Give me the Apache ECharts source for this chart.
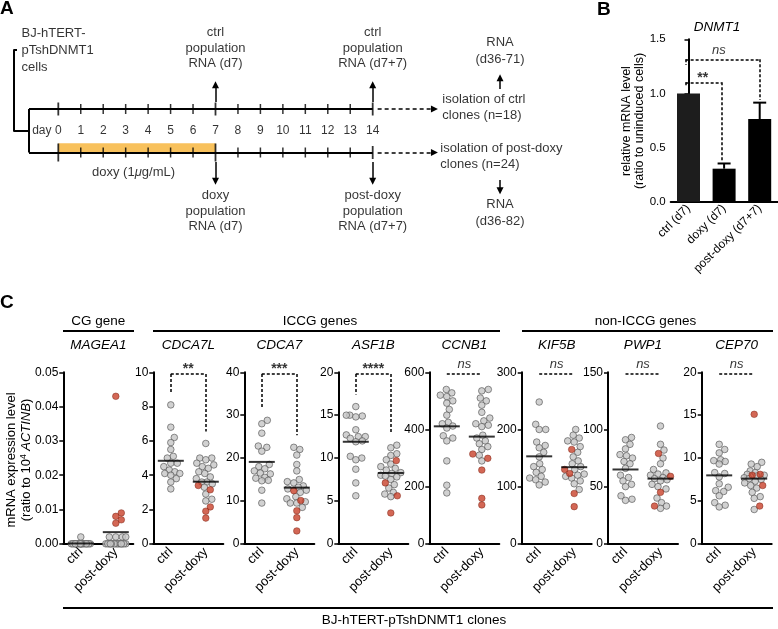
<!DOCTYPE html>
<html><head><meta charset="utf-8">
<script src="https://cdn.jsdelivr.net/npm/echarts@6/dist/echarts.min.js"></script>
<style>html,body{margin:0;padding:0;background:#fff}#c{width:778px;height:629px}</style>
</head><body><div id="c"></div>
<script>
// ================= DATA =================
// Panel A (timeline schematic)
const days = [0,1,2,3,4,5,6,7,8,9,10,11,12,13,14];
const mainDays = [0,7,14];
const doxyPeriod = [0,7];
const sampleDays = [7,14];

// Panel B (DNMT1 relative mRNA)
const bCategories = ['ctrl (d7)','doxy (d7)','post-doxy (d7+7)'];
const bValues = [1.0, 0.305, 0.763];
const bErrors = [0, 0.048, 0.152];
const bTicks = [0, 0.5, 1.0, 1.5];
const bSig = ['**','ns'];

// Panel C (clones)
const cGenes = ['MAGEA1','CDCA7L','CDCA7','ASF1B','CCNB1','KIF5B','PWP1','CEP70'];
const cGroups = ['ctrl','post-doxy'];
const cYMax = [0.05, 10, 40, 20, 600, 300, 150, 20];
const cYStep = [0.01, 2, 10, 5, 200, 100, 50, 5];
const cSig = ['', '**', '***', '****', 'ns', 'ns', 'ns', 'ns'];
const cMeanCtrl = [0.0001, 4.84, 19.1, 11.9, 411, 153, 65, 7.98];
const cMeanPost = [0.0034, 3.62, 13.1, 8.26, 375, 134, 57, 7.6];

const MAGEA1_ctrl = [0.002,0,0,0,0,0,0,0,0,0,0,0,0,0,0,0,0,0];
const MAGEA1_postGray = [0.002,0.002,0.002,0.002,0,0,0,0,0,0,0,0,0,0,0,0,0,0,0];
const MAGEA1_postRed = [0.043,0.009,0.008,0.007,0.006];

const CDCA7L_ctrl = [8.1,6.8,6.2,5.9,5.5,5.1,5.0,4.7,4.7,4.5,4.3,4.2,4.1,4.1,4.0,3.8,3.6,3.2];
const CDCA7L_postGray = [5.85,5.0,5.0,4.9,4.7,4.6,4.5,4.4,4.2,4.1,3.9,3.8,3.6,3.6,3.5,3.3,2.9,2.6,2.5];
const CDCA7L_postRed = [3.4,3.15,2.15,1.9,1.5];

const CDCA7_ctrl = [28.8,28.0,25.8,22.8,22.5,21.6,18.5,18.0,17.5,17.0,16.5,16.3,15.5,15.3,14.8,14.7,12.5,9.5];
const CDCA7_postGray = [22.5,22.0,20.7,18.5,17.0,15.0,14.5,14.2,13.5,13.2,12.8,12.5,12.0,11.0,10.5,9.8,9.5,9.5,8.5];
const CDCA7_postRed = [12.4,10.1,7.7,6.1,3.0];

const ASF1B_ctrl = [16.0,15.0,14.9,14.8,15.0,13.3,12.7,12.5,12.5,12.3,12.0,11.9,10.2,10.0,9.8,8.7,7.1,5.6];
const ASF1B_postGray = [11.5,11.2,10.5,10.3,9.8,9.3,9.0,8.8,8.6,8.3,8.2,8.0,7.9,7.8,7.5,6.9,6.5,6.0,5.8,5.5];
const ASF1B_postRed = [9.7,7.1,5.6,3.6];

const CCNB1_ctrl = [540,528,520,515,500,492,470,450,425,420,412,405,378,370,360,290,205,178];
const CCNB1_postGray = [540,535,510,500,485,460,440,430,420,415,410,380,370,360,350,340,330,310,290];
const CCNB1_postRed = [314,299,258,159,136];

const KIF5B_ctrl = [248,209,200,200,178,172,168,160,152,140,135,130,125,118,115,112,108,103];
const KIF5B_postGray = [200,190,185,180,178,170,160,152,145,140,135,130,122,120,118,115,110,105,95];
const KIF5B_postRed = [165,130,123,88,65];

const PWP1_ctrl = [93,91,87,83,78,77,75,72,70,66,60,58,55,52,50,42,39,38];
const PWP1_postGray = [103,87,82,75,70,65,62,61,60,58,57,56,55,52,50,48,40,36,33,31];
const PWP1_postRed = [79,59,45,33];

const CEP70_ctrl = [11.6,11.0,10.6,9.8,9.7,9.6,9.3,8.3,8.2,7.8,7.0,6.6,6.2,6.1,5.6,4.8,4.5,4.3];
const CEP70_postGray = [9.5,9.3,9.0,8.5,8.3,8.1,8.0,7.9,7.7,7.6,7.5,7.3,7.1,6.8,6.5,6.0,5.5,5.3,4.0];
const CEP70_postRed = [15.1,8.1,8.0,6.8,4.4];

const cCtrl = [MAGEA1_ctrl, CDCA7L_ctrl, CDCA7_ctrl, ASF1B_ctrl, CCNB1_ctrl, KIF5B_ctrl, PWP1_ctrl, CEP70_ctrl];
const cPostGray = [MAGEA1_postGray, CDCA7L_postGray, CDCA7_postGray, ASF1B_postGray, CCNB1_postGray, KIF5B_postGray, PWP1_postGray, CEP70_postGray];
const cPostRed = [MAGEA1_postRed, CDCA7L_postRed, CDCA7_postRed, ASF1B_postRed, CCNB1_postRed, KIF5B_postRed, PWP1_postRed, CEP70_postRed];

// ================= LAYOUT / STYLE =================
const FONT = "'Liberation Sans', Arial, Helvetica, sans-serif";
const GRAY = '#c6c6c6', GRAY_B = '#505050', RED = '#c8412a', RED_B = '#7a2415';
const cLeft = [63.3, 153.3, 244.3, 338.3, 429.3, 521.7, 608, 701.7];
const cTop = 372.3, cH = 171.5, cW = 70;
const DOT = 6.6;

const grids = [], xAxes = [], yAxes = [], series = [], graphics = [];

function linesSeries(xi, yi, coordsList, style, endSymbol, symSize) {
  return {type:'lines', coordinateSystem:'cartesian2d', xAxisIndex:xi, yAxisIndex:yi,
    clip:false, silent:true, animation:false, polyline:false, z:3,
    symbol: endSymbol ? ['none', endSymbol] : ['none','none'], symbolSize: symSize || 7,
    lineStyle: Object.assign({color:'#000', width:2, opacity:1, curveness:0, type:'solid'}, style),
    data: coordsList.map(c => ({coords:c}))};
}
function textSeries(xi, yi, items, lab) {
  return {type:'scatter', xAxisIndex:xi, yAxisIndex:yi, clip:false, silent:true, animation:false, z:6,
    symbolSize:1, itemStyle:{color:'rgba(0,0,0,0)'},
    label: Object.assign({show:true, position:'inside', formatter:'{b}', color:'#000', fontFamily:FONT, fontSize:13}, lab),
    data: items.map(it => ({name:it.t, value:it.p, label: it.l || {}}))};
}
function gText(x, y, text, opts) {
  graphics.push(Object.assign({type:'text', x:x, y:y, silent:true, z:10,
    style: Object.assign({text:text, fill:'#000', fontFamily:FONT, fontSize:13.5, align:'center', verticalAlign:'middle'}, (opts && opts.style) || {})},
    opts && opts.rotation ? {rotation: opts.rotation} : {}));
}
function gLine(x1, y1, x2, y2, w) {
  graphics.push({type:'line', silent:true, z:10, shape:{x1,y1,x2,y2}, style:{stroke:'#000', lineWidth:w || 2}});
}

// ================= PANEL A =================
grids.push({left:58.3, top:109, width:314.4, height:43.5});
xAxes.push({gridIndex:0, type:'value', min:0, max:14, show:false});
yAxes.push({gridIndex:0, type:'value', min:0, max:1, inverse:true, show:false});
series.push({type:'line', xAxisIndex:0, yAxisIndex:0, data:[[0,1]], symbol:'none', lineStyle:{width:0}, silent:true, z:1,
  markArea:{silent:true, itemStyle:{color:'#F8C15C'}, data:[[{coord:[doxyPeriod[0], 0.79]}, {coord:[doxyPeriod[1], 1.21]}]]}});
series.push(linesSeries(0,0,[
  [[-1.305,0],[14,0]], [[-1.305,1],[14,1]], [[-1.305,0],[-1.305,1]],
  [[-2.004,0.506],[-1.305,0.506]], [[-2.004,0.506],[-2.004,-1.356]], [[-2.004,-1.356],[-1.84,-1.356]]
], {width:2}));
const tickData = [];
days.forEach(d => {
  const main = mainDays.includes(d);
  tickData.push({value:[d,0], symbolSize: main ? [1.8,13] : [1.5,10]});
  const edge = (d === doxyPeriod[0] || d === doxyPeriod[1]);
  tickData.push({value:[d,1], symbolSize: edge ? [1.8,18] : (main ? [1.8,13] : [1.5,10])});
});
series.push({type:'scatter', xAxisIndex:0, yAxisIndex:0, clip:false, silent:true, animation:false, z:4,
  symbol:'rect', itemStyle:{color:'#000'}, data:tickData});
const arrowCoords = [];
sampleDays.forEach(d => { arrowCoords.push([[d,-0.16],[d,-0.56]]); arrowCoords.push([[d,1.22],[d,1.66]]); });
arrowCoords.push([[19.67,-0.46],[19.67,-0.72]]);
arrowCoords.push([[19.67,1.63],[19.67,1.88]]);
series.push(linesSeries(0,0,arrowCoords,{width:1.5},'triangle',7));
series.push(linesSeries(0,0,[[[14.22,0],[16.75,0]],[[14.22,1],[16.75,1]]],{width:1.5,type:[4,3]},'triangle',7));
series.push(textSeries(0,0, days.map(d => ({t:String(d), p:[d,0.5]})), {fontSize:12}));
series.push(textSeries(0,0, [{t:'day', p:[-0.28,0.5]}], {fontSize:12, position:'left', distance:0}));
series.push(textSeries(0,0, [
  {t:'ctrl\npopulation\nRNA (d7)', p:[7,-1.40]},
  {t:'ctrl\npopulation\nRNA (d7+7)', p:[14,-1.40]},
  {t:'doxy\npopulation\nRNA (d7)', p:[7,2.345]},
  {t:'post-doxy\npopulation\nRNA (d7+7)', p:[14,2.345]}
], {lineHeight:15.5}));
series.push(textSeries(0,0, [
  {t:'RNA\n(d36-71)', p:[19.67,-1.345]},
  {t:'RNA\n(d36-82)', p:[19.67,2.40]}
], {lineHeight:17}));
series.push(textSeries(0,0, [
  {t:'BJ-hTERT-\npTshDNMT1\ncells', p:[-1.66,-1.356], l:{lineHeight:17}},
  {t:'isolation of ctrl\nclones (n=18)', p:[17.08,-0.046]},
  {t:'isolation of post-doxy\nclones (n=24)', p:[16.99,1.08]}
], {position:'right', distance:0, lineHeight:16}));
series.push(textSeries(0,0, [{t:'doxy (1{m|μ}g/mL)', p:[3.35,1.45]}],
  {rich:{m:{fontStyle:'italic', fontFamily:FONT, fontSize:13, color:'#000'}}}));

// ================= PANEL B =================
grids.push({left:670.7, top:39.3, width:106.8, height:162.4});
xAxes.push({gridIndex:1, type:'category', data:bCategories,
  axisLine:{show:true, lineStyle:{color:'#000', width:2}}, axisTick:{show:false},
  axisLabel:{rotate:45, interval:0, fontSize:12, color:'#000', fontFamily:FONT, margin:5}});
xAxes.push({gridIndex:1, type:'value', min:-0.5, max:2.5, show:false});
yAxes.push({gridIndex:1, type:'value', min:bTicks[0], max:bTicks[bTicks.length-1], interval:bTicks[1]-bTicks[0],
  axisLine:{show:true, lineStyle:{color:'#000', width:2}},
  axisTick:{show:true, length:4, lineStyle:{color:'#000', width:1.5}},
  splitLine:{show:false},
  axisLabel:{color:'#000', fontSize:11.5, fontFamily:FONT, margin:5, formatter:v => v.toFixed(1)}});
series.push({type:'bar', xAxisIndex:1, yAxisIndex:1, barWidth:23, animation:false, silent:true, z:2,
  data: bValues.map((v,i) => ({value:v, itemStyle:{color: i === 0 ? '#1d1d1d' : '#000'}}))});
series.push({type:'custom', xAxisIndex:2, yAxisIndex:1, animation:false, silent:true, z:3, clip:false,
  data: bValues.map((v,i) => [i, v, bErrors[i]]).filter(d => d[2] > 0),
  renderItem: (params, api) => {
    const x = api.value(0), v = api.value(1), e = api.value(2);
    const base = api.coord([x, v]), top = api.coord([x, v + e]);
    return {type:'group', children:[
      {type:'line', shape:{x1:base[0], y1:base[1], x2:top[0], y2:top[1]}, style:{stroke:'#000', lineWidth:2}},
      {type:'line', shape:{x1:top[0]-6.5, y1:top[1], x2:top[0]+6.5, y2:top[1]}, style:{stroke:'#000', lineWidth:2}}
    ]};
  }});
(function(){
  const gap = 0.025;
  const b1Top = 1.103, b2Top = 1.315;
  const l1 = -0.08, r1 = 0.93, r2 = 1.99;
  series.push(linesSeries(2,1,[
    [[l1,b1Top],[r1,b1Top]], [[l1,b1Top],[l1,bValues[0]+0.057]], [[r1,b1Top],[r1,bValues[1]+bErrors[1]+gap-0.01]],
    [[l1,b2Top],[r2,b2Top]], [[l1,b2Top],[l1,b2Top-0.052]], [[r2,b2Top],[r2,bValues[2]+bErrors[2]+gap]]
  ], {width:1.5, type:[3,2]}));
  series.push(textSeries(2,1,[{t:bSig[0], p:[0.4,1.145]}], {fontSize:14, fontWeight:'bold'}));
  series.push(textSeries(2,1,[{t:bSig[1], p:[0.85,1.395]}], {fontSize:13, fontStyle:'italic'}));
})();

// ================= PANEL C =================
function swarm(vals, yMax, H, dist, maxHalf) {
  const order = vals.map((v,i) => i).sort((a,b) => vals[a] - vals[b]);
  const placed = [], off = new Array(vals.length).fill(0);
  const cands = [0];
  for (let s = 0.5; s <= maxHalf + 1e-9; s += 0.5) cands.push(s, -s);
  for (const i of order) {
    const py = vals[i] / yMax * H;
    let best = 0, bestD = -1;
    for (const c of cands) {
      let md = Infinity;
      for (const p of placed) { const d = Math.hypot(p.x - c, p.y - py); if (d < md) md = d; }
      if (md >= dist) { best = c; break; }
      if (md > bestD + 1e-9) { bestD = md; best = c; }
    }
    placed.push({x:best, y:py}); off[i] = best;
  }
  return off;
}

cGenes.forEach((gene, k) => {
  const gi = 2 + k, xv = 4 + 2*k, yi = 2 + k;
  const yMax = cYMax[k];
  const pxToV = yMax / cH;
  const unit = cW / 2;
  grids.push({left:cLeft[k], top:cTop, width:cW, height:cH});
  xAxes.push({gridIndex:gi, type:'category', data:cGroups,
    axisLine:{show:true, onZero:false, lineStyle:{color:'#000', width:2}}, axisTick:{show:false},
    axisLabel:{rotate:45, interval:0, fontSize:13, color:'#000', fontFamily:FONT, margin:6}});
  xAxes.push({gridIndex:gi, type:'value', min:0, max:2, show:false});
  yAxes.push({gridIndex:gi, type:'value', min:0, max:yMax, interval:cYStep[k],
    axisLine:{show:true, lineStyle:{color:'#000', width:2}},
    axisTick:{show:true, length:4, lineStyle:{color:'#000', width:1.5}},
    splitLine:{show:false},
    axisLabel:{color:'#000', fontSize:12, fontFamily:FONT, margin:5,
      formatter: v => (yMax < 1 ? v.toFixed(2) : String(Math.round(v)))}});

  const ctrl = cCtrl[k];
  const post = cPostGray[k].concat(cPostRed[k]);
  const isRed = cPostGray[k].map(() => false).concat(cPostRed[k].map(() => true));
  const offC = swarm(ctrl, yMax, cH, DOT - 0.4, 9.5);
  const offP = swarm(post, yMax, cH, DOT - 0.4, 10);
  const grayData = ctrl.map((v,i) => [0.5 + offC[i]/unit, v]);
  const redData = [];
  post.forEach((v,i) => { (isRed[i] ? redData : grayData).push([1.5 + offP[i]/unit, v]); });
  series.push({type:'scatter', xAxisIndex:xv, yAxisIndex:yi, clip:false, silent:true, animation:false, z:3,
    symbolSize:DOT, itemStyle:{color:GRAY, borderColor:GRAY_B, borderWidth:0.8}, data:grayData});
  series.push({type:'scatter', xAxisIndex:xv, yAxisIndex:yi, clip:false, silent:true, animation:false, z:4,
    symbolSize:DOT, itemStyle:{color:RED, borderColor:RED_B, borderWidth:0.6}, data:redData});
  series.push({type:'scatter', xAxisIndex:xv, yAxisIndex:yi, clip:false, silent:true, animation:false, z:5,
    symbol:'rect', symbolSize:[26,2], itemStyle:{color:'#000'},
    data:[[0.5, cMeanCtrl[k]], [1.5, cMeanPost[k]]]});
  const sig = cSig[k];
  if (sig) {
    const topV = yMax - 1.7 * pxToV;
    const segs = [[[0.5, topV],[1.5, topV]]];
    if (sig !== 'ns') {
      segs.push([[0.5, topV],[0.5, Math.max(...ctrl) + 12*pxToV]]);
      segs.push([[1.5, topV],[1.5, Math.max(...post) + 12*pxToV]]);
      series.push(textSeries(xv, yi, [{t:sig, p:[1, yMax + 3.3*pxToV]}], {fontSize:14, fontWeight:'bold'}));
    } else {
      series.push(textSeries(xv, yi, [{t:sig, p:[1, yMax + 8.3*pxToV]}], {fontSize:13, fontStyle:'italic'}));
    }
    series.push(linesSeries(xv, yi, segs, {width:1.5, type:[3,2]}));
  }
  gText(cLeft[k] + 35, 345, gene, {style:{fontStyle:'italic'}});
});

// ================= TEXT / DECORATION =================
gText(0, 8.5, 'A', {style:{fontWeight:'bold', fontSize:19, align:'left'}});
gText(597, 9.5, 'B', {style:{fontWeight:'bold', fontSize:19, align:'left'}});
gText(0, 302.5, 'C', {style:{fontWeight:'bold', fontSize:19, align:'left'}});
gText(717, 27, 'DNMT1', {style:{fontStyle:'italic'}});
gText(626.5, 121, 'relative mRNA level', {rotation:Math.PI/2, style:{fontSize:12.5}});
gText(640, 121, '(ratio to uninduced cells)', {rotation:Math.PI/2, style:{fontSize:12.5}});
gText(98.3, 321.5, 'CG gene');
gText(320, 321.5, 'ICCG genes');
gText(645.5, 321.5, 'non-ICCG genes');
gLine(63, 331, 134, 331);
gLine(153, 331, 500, 331);
gLine(522, 331, 773, 331);
gLine(63, 608, 773, 608);
gText(414, 620, 'BJ-hTERT-pTshDNMT1 clones');
gText(11, 460, 'mRNA expression level', {rotation:Math.PI/2, style:{fontSize:13}});
gText(26, 460, '(ratio to 10{s|4} {i|ACTINB})', {rotation:Math.PI/2, style:{fontSize:13,
  rich:{s:{fontSize:8.5, verticalAlign:'top', fontFamily:FONT, fill:'#000'}, i:{fontStyle:'italic', fontSize:13, fontFamily:FONT, fill:'#000'}}}});

const chart = echarts.init(document.getElementById('c'), null, {renderer:'canvas'});
chart.setOption({
  animation:false,
  backgroundColor:'#fff',
  textStyle:{fontFamily:FONT, color:'#000'},
  grid:grids, xAxis:xAxes, yAxis:yAxes, series:series, graphic:graphics
});
</script>
</body></html>
